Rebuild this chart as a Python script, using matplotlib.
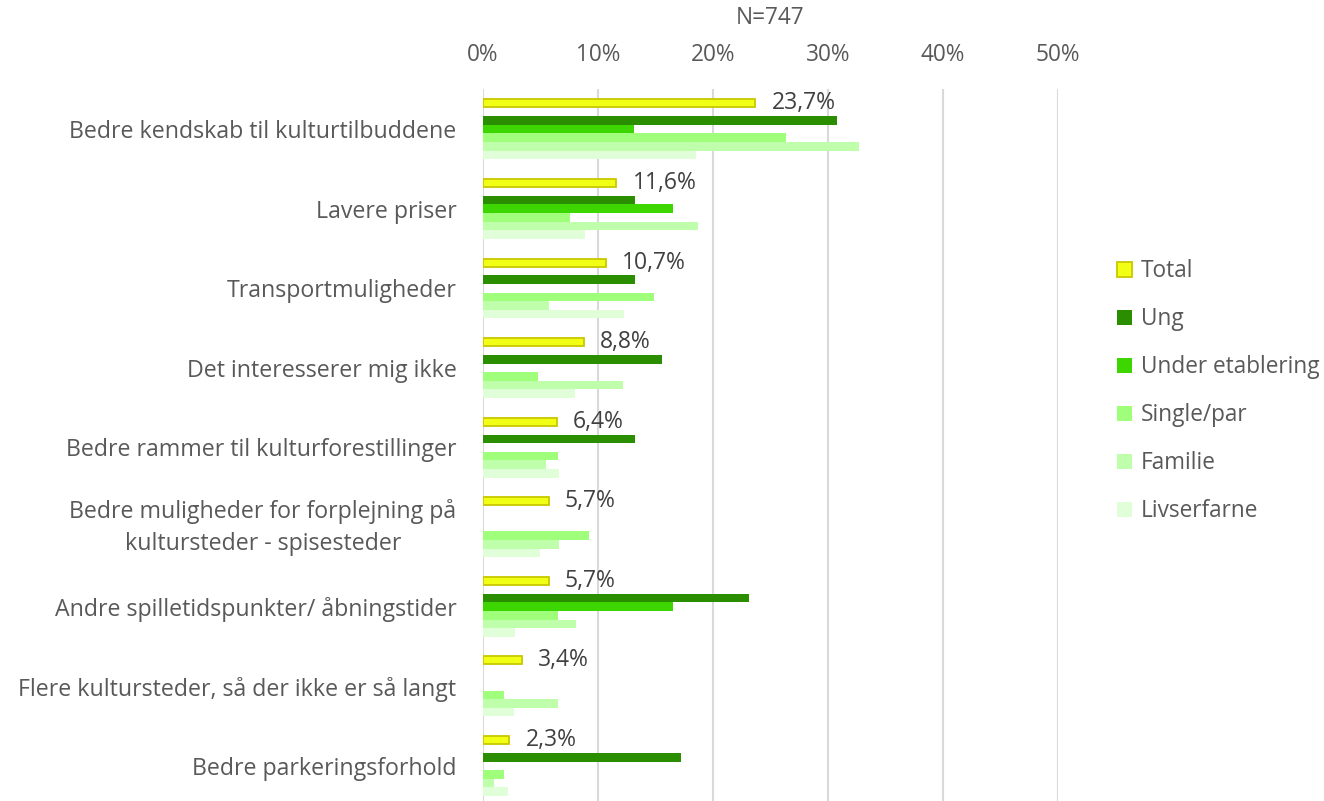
import matplotlib

matplotlib.use("Agg")
import matplotlib.pyplot as plt
import numpy as np

categories = [
    "Bedre kendskab til kulturtilbuddene",
    "Lavere priser",
    "Transportmuligheder",
    "Det interesserer mig ikke",
    "Bedre rammer til kulturforestillinger",
    "Bedre muligheder for forplejning på\nkultursteder - spisesteder",
    "Andre spilletidspunkter/ åbningstider",
    "Flere kultursteder, så der ikke er så langt",
    "Bedre parkeringsforhold",
]

total = [23.7, 11.6, 10.7, 8.8, 6.4, 5.7, 5.7, 3.4, 2.3]
ung = [30.8, 13.2, 13.2, 15.6, 13.2, 0.0, 23.1, 0.0, 17.2]
under_etablering = [13.1, 16.5, 0.0, 0.0, 0.0, 0.0, 16.5, 0.0, 0.0]
single_par = [26.4, 7.6, 14.9, 4.8, 6.5, 9.2, 6.5, 1.8, 1.8]
familie = [32.7, 18.7, 5.7, 12.2, 5.5, 6.6, 8.1, 6.5, 1.0]
livserfarne = [18.5, 8.9, 12.3, 8.0, 6.6, 5.0, 2.8, 2.7, 2.2]

series_names = ["Ung", "Under etablering", "Single/par", "Familie", "Livserfarne"]
series_values = [ung, under_etablering, single_par, familie, livserfarne]
series_colors = ["#2b8e00", "#3dd600", "#a0ff7a", "#bfffab", "#e0ffd8"]

plt.rcParams["font.family"] = ["Open Sans", "DejaVu Sans"]
text_grey = "#595959"
fs = 16.3

fig = plt.figure(figsize=(13.24, 8.01), dpi=100)
ax = fig.add_axes([483 / 1324, 1 - 805.6 / 801, (1057.7 - 483) / 1324, (805.6 - 89.4) / 801])

y = np.arange(len(categories))
slot = 0.108

# Total sits three slots above the group centre, the segments follow after one empty slot
bars_total = ax.barh(y - 3 * slot, total, height=slot * 0.92, color="#f0ff14",
                     edgecolor="#c8c800", linewidth=1.3, label="Total", zorder=3)
handles = [bars_total]
for k, (name, vals, col) in enumerate(zip(series_names, series_values, series_colors)):
    b = ax.barh(y + (k - 1) * slot, vals, height=slot, color=col, label=name,
                linewidth=0, zorder=3)
    handles.append(b)

for yi, v in zip(y, total):
    ax.text(v + 1.4, yi - 3 * slot, f"{v:.1f}%".replace(".", ","), va="center",
            ha="left", fontsize=16.5, color="#404040", zorder=4)

ax.set_xlim(0, 50)
ax.set_ylim(len(categories) - 0.5, -0.5)
ax.set_xticks(np.arange(0, 51, 10))
ax.set_xticklabels([f"{t}%" for t in range(0, 51, 10)])
ax.xaxis.tick_top()
ax.tick_params(axis="x", length=0, pad=16, labelsize=fs, labelcolor=text_grey)
ax.set_yticks(y)
ax.set_yticklabels(categories, multialignment="center", linespacing=1.45,
                   fontsize=16.7, va="center")
ax.tick_params(axis="y", length=0, pad=19, labelcolor=text_grey)
for lbl in ax.get_yticklabels():
    if "\n" not in lbl.get_text():
        lbl.set_va("center_baseline")
ax.grid(axis="x", color="#d9d9d9", linewidth=1.5, zorder=0)
for s in ax.spines.values():
    s.set_visible(False)

fig.text(770 / 1324, 1 - 18 / 801, "N=747", ha="center", va="center",
         fontsize=fs, color=text_grey)

fig.legend(handles=handles, loc="upper left", bbox_to_anchor=(1108 / 1324, 1 - 250 / 801),
           frameon=False, fontsize=fs, labelcolor=text_grey, handlelength=0.65,
           handleheight=0.65, handletextpad=0.4, labelspacing=1.06, borderaxespad=0)

fig.savefig("out.png", dpi=100)
